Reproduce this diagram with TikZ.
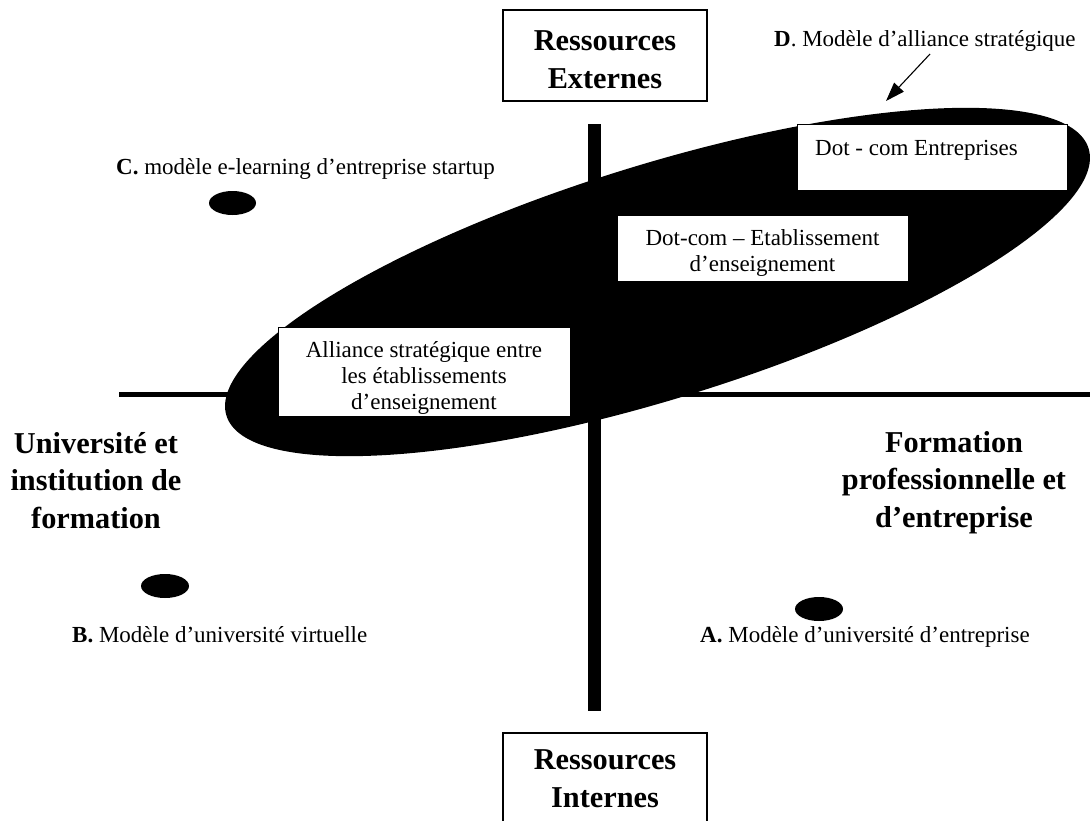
\documentclass[tikz,border=0pt]{standalone}
\usepackage{fontspec}
\setmainfont{Liberation Serif}
\usetikzlibrary{arrows.meta,shapes.geometric}
\tikzset{
  reg/.style={font=\fontsize{23}{26}\selectfont, inner sep=0pt},
  big/.style={font=\fontsize{30.3}{37.5}\selectfont\bfseries, align=center, inner sep=0pt},
  rbox/.style={draw=black, line width=1.2pt, fill=white, inner sep=0pt},
  wbox/.style={draw=black, line width=0.8pt, fill=white, inner sep=0pt},
  dot/.style={fill=black, ellipse, inner sep=0pt},
}
\begin{document}
\begin{tikzpicture}[x=1pt,y=-1pt]
\useasboundingbox (0,0) rectangle (1090,820);
% axes
\coordinate (hl) at (119,394.5);
\coordinate (hr) at (1095,394.5);
\coordinate (vt) at (594.5,124);
\coordinate (vb) at (594.5,711);
\draw[line width=5pt] (hl) -- (hr);
\draw[line width=13pt] (vt) -- (vb);
% big ellipse
\coordinate (ec) at (657.5,282);
\fill[rotate around={17.22:(ec)}] (ec) ellipse [x radius=451.3pt, y radius=117pt];
% top & bottom boxes
\node[rbox, minimum width=204pt, minimum height=91pt] (ext) at (605,55.5) {};
\node[big, anchor=base] (extt) at (605,88) {Ressources\\Externes};
\node[rbox, minimum width=204pt, minimum height=100pt] (int) at (605,783) {};
\node[big, anchor=base] (intt) at (605,807) {Ressources\\Internes};
% side labels
\node[big, anchor=base] (univ) at (96,528) {Université et\\institution de\\formation};
\node[big, anchor=base] (form) at (954,527) {Formation\\professionnelle et\\d’entreprise};
% D label and arrow
\node[reg, anchor=base west] (dlab) at (774,46) {\textbf{D}. Modèle d’alliance stratégique};
\coordinate (as) at (930,54);
\coordinate (ae) at (886,101);
\draw[line width=1.1pt, -{Triangle[length=19pt,width=13pt]}] (as) -- (ae);
% white boxes on ellipse
\node[wbox, minimum width=270pt, minimum height=66pt] (dotent) at (932,157) {};
\node[reg, anchor=base west] (dotentt) at (815,155) {Dot - com Entreprises};
\node[wbox, minimum width=291pt, minimum height=66pt] (dotetab) at (762.5,248) {};
\begin{scope}
\clip (dotetab.south west) rectangle (dotetab.north east);
\node[reg, anchor=base] (de1) at (762.5,245) {Dot-com – Etablissement};
\node[reg, anchor=base] (de2) at (762.5,271) {d’enseignement};
\end{scope}
\node[wbox, minimum width=292pt, minimum height=89pt] (alli) at (424,371.5) {};
\begin{scope}
\clip (alli.south west) rectangle (alli.north east);
\node[reg, anchor=base] (al1) at (424,357) {Alliance stratégique entre};
\node[reg, anchor=base] (al2) at (424,383) {les établissements};
\node[reg, anchor=base] (al3) at (424,409) {d’enseignement};
\end{scope}
% C, B, A
\node[reg, anchor=base west] (clab) at (116,174) {\textbf{C.} modèle e-learning d’entreprise startup};
\node[dot, minimum width=47pt, minimum height=24pt] (cdot) at (232.5,203) {};
\node[dot, minimum width=48pt, minimum height=24pt] (bdot) at (165,586) {};
\node[reg, anchor=base west] (blab) at (72,642) {\textbf{B.} Modèle d’université virtuelle};
\node[dot, minimum width=48pt, minimum height=24pt] (adot) at (819,609) {};
\node[reg, anchor=base west] (alab) at (700,642) {\textbf{A.} Modèle d’université d’entreprise};
\end{tikzpicture}
\end{document}
